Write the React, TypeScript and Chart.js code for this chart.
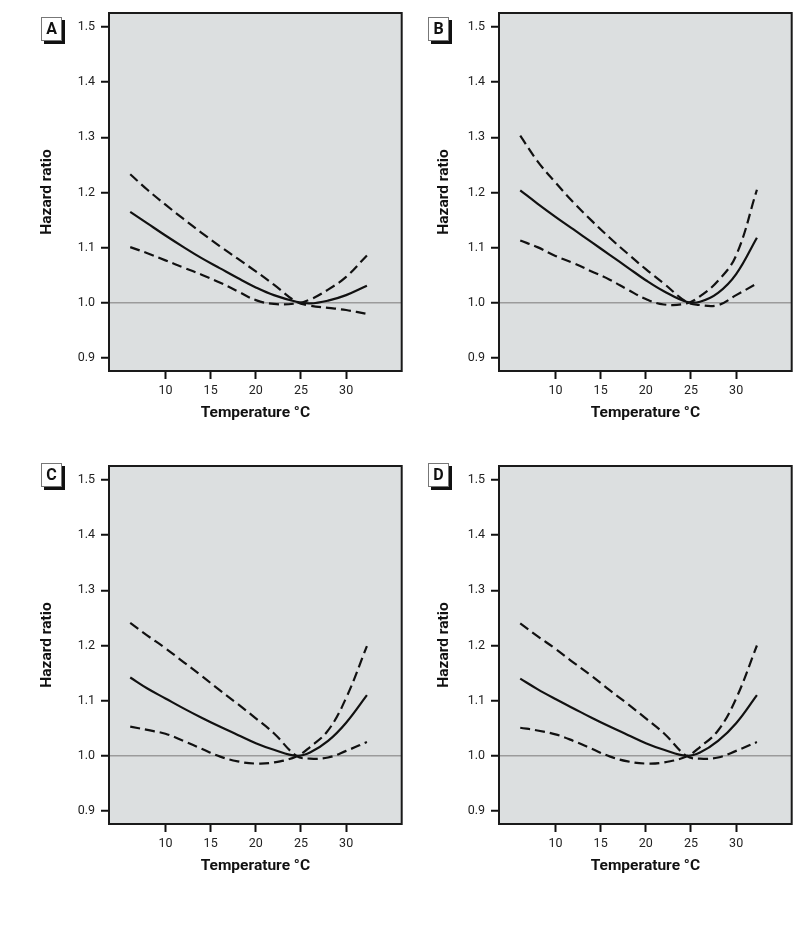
import React, { useEffect, useRef } from "react";
import { Chart, registerables } from "chart.js";

Chart.register(...registerables);

// ---- data ----
const temps = [6.1, 8, 10, 12, 14, 16, 18, 20, 22, 24.5, 26, 28, 30, 32.3];
const xTickValues = [10, 15, 20, 25, 30];
const yTickValues = [0.9, 1.0, 1.1, 1.2, 1.3, 1.4, 1.5];
const panelLabels = ["A", "B", "C", "D"];
const xTitle = "Temperature °C";
const yTitle = "Hazard ratio";

// solid: hazard ratio; ciFall / ciRise: the two dashed confidence-band lines
const hrA = [1.165, 1.144, 1.122, 1.101, 1.081, 1.063, 1.045, 1.028, 1.014, 1.002, 0.999, 1.004, 1.014, 1.031];
const ciFallA = [1.233, 1.205, 1.178, 1.152, 1.127, 1.103, 1.08, 1.057, 1.033, 1.002, 0.995, 0.991, 0.987, 0.98];
const ciRiseA = [1.101, 1.09, 1.077, 1.064, 1.051, 1.037, 1.021, 1.005, 0.998, 0.999, 1.006, 1.024, 1.047, 1.086];

const hrB = [1.204, 1.18, 1.156, 1.133, 1.11, 1.087, 1.064, 1.041, 1.021, 1.002, 1.002, 1.018, 1.052, 1.118];
const ciFallB = [1.303, 1.257, 1.218, 1.182, 1.149, 1.118, 1.089, 1.061, 1.035, 1.002, 0.996, 0.996, 1.014, 1.035];
const ciRiseB = [1.113, 1.101, 1.085, 1.072, 1.057, 1.042, 1.024, 1.007, 0.997, 0.999, 1.012, 1.04, 1.086, 1.205];

const hrC = [1.142, 1.122, 1.104, 1.086, 1.069, 1.053, 1.038, 1.023, 1.011, 1.0, 1.006, 1.027, 1.06, 1.11];
const ciFallC = [1.241, 1.218, 1.195, 1.17, 1.145, 1.119, 1.094, 1.068, 1.041, 1.0, 0.995, 0.997, 1.009, 1.025];
const ciRiseC = [1.053, 1.047, 1.04, 1.027, 1.013, 0.999, 0.99, 0.986, 0.988, 0.999, 1.016, 1.046, 1.105, 1.199];

const hrD = [1.14, 1.121, 1.103, 1.086, 1.069, 1.053, 1.038, 1.023, 1.011, 1.0, 1.006, 1.027, 1.059, 1.11];
const ciFallD = [1.24, 1.217, 1.194, 1.169, 1.145, 1.119, 1.094, 1.068, 1.041, 1.0, 0.995, 0.997, 1.009, 1.025];
const ciRiseD = [1.051, 1.046, 1.039, 1.027, 1.013, 0.999, 0.99, 0.986, 0.988, 0.999, 1.016, 1.046, 1.104, 1.2];

const X_MIN = 3.75;
const X_MAX = 36.15;
const Y_MIN = 0.8765;
const Y_MAX = 1.5253;

// ---- styles ----
const FONT = "Roboto, 'DejaVu Sans Condensed', sans-serif";
const INK = "#111111";
const PANEL_BG = "#dcdfe0";

type PanelProps = {
  label: string;
  hr: number[];
  ciFall: number[];
  ciRise: number[];
  left: number;
  top: number;
  width: number;
  height: number;
  axisWidth: number;
  titlePad: number;
  padRight: number;
  boxLeft: number;
  boxTop: number;
};

function Panel(p: PanelProps) {
  const ref = useRef<HTMLCanvasElement>(null);

  useEffect(() => {
    const canvas = ref.current;
    if (!canvas) return;
    const mk = (vals: number[]) => temps.map((t, i) => ({ x: t, y: vals[i] }));

    const bgPlugin = {
      id: "panelBg",
      beforeDraw(chart: any) {
        const { ctx, chartArea } = chart;
        ctx.save();
        ctx.fillStyle = PANEL_BG;
        ctx.fillRect(chartArea.left, chartArea.top, chartArea.right - chartArea.left, chartArea.bottom - chartArea.top);
        ctx.restore();
      },
    };
    const framePlugin = {
      id: "panelFrame",
      afterDraw(chart: any) {
        const { ctx, chartArea } = chart;
        ctx.save();
        ctx.strokeStyle = "#1a1a1a";
        ctx.lineWidth = 2;
        ctx.strokeRect(chartArea.left, chartArea.top, chartArea.right - chartArea.left, chartArea.bottom - chartArea.top);
        ctx.restore();
      },
    };

    const line = {
      borderColor: INK,
      borderWidth: 2.2,
      pointRadius: 0,
      fill: false,
      tension: 0.4,
    };

    const chart = new Chart(canvas, {
      type: "line",
      data: {
        datasets: [
          { label: "CI (falling)", data: mk(p.ciFall), ...line, borderDash: [10, 5] },
          { label: "HR", data: mk(p.hr), ...line },
          { label: "CI (rising)", data: mk(p.ciRise), ...line, borderDash: [10, 5] },
        ],
      },
      options: {
        animation: false,
        responsive: false,
        maintainAspectRatio: false,
        events: [],
        layout: { padding: { top: 13, bottom: 22, left: 0, right: p.padRight } },
        plugins: { legend: { display: false }, tooltip: { enabled: false } },
        scales: {
          x: {
            type: "linear",
            min: X_MIN,
            max: X_MAX,
            afterBuildTicks: (s: any) => {
              s.ticks = xTickValues.map((v) => ({ value: v }));
            },
            afterFit: (s: any) => {
              s.height = 60;
              s.paddingLeft = 0;
              s.paddingRight = 0;
            },
            border: { display: false },
            grid: { drawOnChartArea: false, tickLength: 8, tickColor: INK, tickWidth: 2 },
            ticks: {
              color: "#222",
              padding: 4,
              maxRotation: 0,
              autoSkip: false,
              font: { family: FONT, size: 12.5 },
              callback: (v: any) => String(v),
            },
            title: {
              display: true,
              text: xTitle,
              color: INK,
              font: { family: FONT, size: 15.5, weight: "bold" },
              padding: { top: 0, bottom: 8.7 },
            },
          },
          y: {
            type: "linear",
            min: Y_MIN,
            max: Y_MAX,
            afterBuildTicks: (s: any) => {
              s.ticks = yTickValues.map((v) => ({ value: v }));
            },
            afterFit: (s: any) => {
              s.width = p.axisWidth;
              s.paddingTop = 0;
              s.paddingBottom = 0;
            },
            border: { display: false },
            grid: {
              drawOnChartArea: true,
              color: (c: any) => (c.tick && Math.abs(c.tick.value - 1) < 1e-9 ? "#9b9b9b" : "rgba(0,0,0,0)"),
              lineWidth: 1.5,
              tickLength: 8,
              tickColor: INK,
              tickWidth: 2,
            },
            ticks: {
              color: "#222",
              padding: 6,
              autoSkip: false,
              font: { family: FONT, size: 12.5 },
              callback: (v: any) => Number(v).toFixed(1),
            },
            title: {
              display: true,
              text: yTitle,
              color: INK,
              font: { family: FONT, size: 15.5, weight: "bold" },
              padding: { top: p.titlePad, bottom: 0 },
            },
          },
        },
      } as any,
      plugins: [bgPlugin, framePlugin],
    });
    return () => chart.destroy();
  }, []);

  return (
    <>
      <canvas
        ref={ref}
        width={p.width}
        height={p.height}
        style={{ position: "absolute", left: p.left, top: p.top, width: p.width, height: p.height }}
      />
      <div
        style={{
          position: "absolute",
          left: p.boxLeft,
          top: p.boxTop,
          width: 21,
          height: 24,
          boxSizing: "border-box",
          border: "1px solid #777",
          background: "#fff",
          boxShadow: "3px 3px 0 #111",
          display: "flex",
          alignItems: "center",
          justifyContent: "center",
          fontFamily: FONT,
          fontWeight: "bold",
          fontSize: 16,
          color: INK,
          lineHeight: 1,
        }}
      >
        {p.label}
      </div>
    </>
  );
}

export default function App() {
  const rowH = 453;
  const leftW = 420;
  const rightW = 380;
  return (
    <div style={{ position: "absolute", left: 0, top: 0, width: 800, height: 941, background: "#fff" }}>
      <Panel label={panelLabels[0]} hr={hrA} ciFall={ciFallA} ciRise={ciRiseA} left={0} top={0} width={leftW} height={rowH}
        axisWidth={109} titlePad={38.2} padRight={18.3} boxLeft={41} boxTop={17} />
      <Panel label={panelLabels[1]} hr={hrB} ciFall={ciFallB} ciRise={ciRiseB} left={leftW} top={0} width={rightW} height={rowH}
        axisWidth={79} titlePad={14.4} padRight={8.3} boxLeft={428} boxTop={17} />
      <Panel label={panelLabels[2]} hr={hrC} ciFall={ciFallC} ciRise={ciRiseC} left={0} top={rowH} width={leftW} height={rowH}
        axisWidth={109} titlePad={38.2} padRight={18.3} boxLeft={41} boxTop={463} />
      <Panel label={panelLabels[3]} hr={hrD} ciFall={ciFallD} ciRise={ciRiseD} left={leftW} top={rowH} width={rightW} height={rowH}
        axisWidth={79} titlePad={14.4} padRight={8.3} boxLeft={428} boxTop={463} />
    </div>
  );
}
